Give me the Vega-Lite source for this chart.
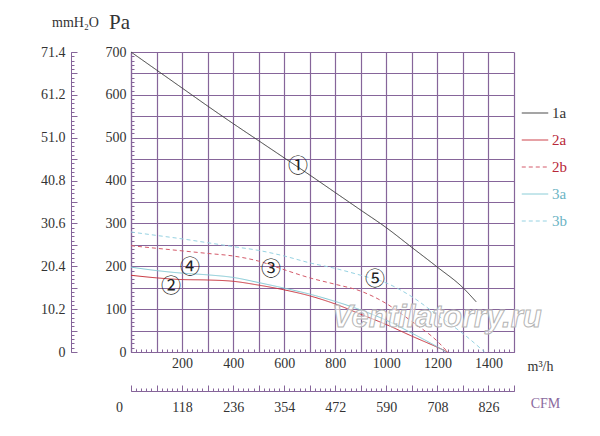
{
  "$schema": "https://vega.github.io/schema/vega-lite/v6.json",
  "width": 383,
  "height": 300,
  "autosize": "none",
  "padding": {"left": 131, "top": 52, "right": 86, "bottom": 84},
  "background": "white",
  "config": {
    "view": {"stroke": null},
    "axis": {
      "labelFont": "Liberation Serif",
      "labelFontSize": 14,
      "labelColor": "#333333",
      "titleFont": "Liberation Serif",
      "titleFontWeight": "normal",
      "titleColor": "#333333",
      "domainColor": "#86659a",
      "tickColor": "#86659a",
      "gridColor": "#86659a",
      "gridOpacity": 1,
      "labelOverlap": false,
      "labelFlush": false,
      "labelBound": false
    }
  },
  "datasets": {
    "curves": [
      {"q": 0, "p": 700, "s": "1a"}, {"q": 100, "p": 658, "s": "1a"}, {"q": 200, "p": 616, "s": "1a"},
      {"q": 300, "p": 574, "s": "1a"}, {"q": 400, "p": 533, "s": "1a"}, {"q": 500, "p": 493, "s": "1a"},
      {"q": 600, "p": 453, "s": "1a"}, {"q": 700, "p": 413, "s": "1a"}, {"q": 800, "p": 372, "s": "1a"},
      {"q": 900, "p": 331, "s": "1a"}, {"q": 1000, "p": 290, "s": "1a"}, {"q": 1100, "p": 244, "s": "1a"},
      {"q": 1200, "p": 198, "s": "1a"}, {"q": 1300, "p": 150, "s": "1a"}, {"q": 1352, "p": 117, "s": "1a"},
      {"q": 0, "p": 179, "s": "2a"}, {"q": 100, "p": 173, "s": "2a"}, {"q": 200, "p": 169, "s": "2a"},
      {"q": 300, "p": 168, "s": "2a"}, {"q": 400, "p": 165, "s": "2a"}, {"q": 500, "p": 156, "s": "2a"},
      {"q": 600, "p": 145, "s": "2a"}, {"q": 700, "p": 131, "s": "2a"}, {"q": 800, "p": 112, "s": "2a"},
      {"q": 900, "p": 88, "s": "2a"}, {"q": 1000, "p": 64, "s": "2a"}, {"q": 1100, "p": 37, "s": "2a"},
      {"q": 1200, "p": 11, "s": "2a"}, {"q": 1240, "p": 0, "s": "2a"},
      {"q": 0, "p": 248, "s": "2b"}, {"q": 100, "p": 242, "s": "2b"}, {"q": 200, "p": 236, "s": "2b"},
      {"q": 300, "p": 230, "s": "2b"}, {"q": 400, "p": 224, "s": "2b"}, {"q": 500, "p": 212, "s": "2b"},
      {"q": 600, "p": 192, "s": "2b"}, {"q": 700, "p": 173, "s": "2b"}, {"q": 800, "p": 158, "s": "2b"},
      {"q": 900, "p": 142, "s": "2b"}, {"q": 1000, "p": 113, "s": "2b"}, {"q": 1100, "p": 71, "s": "2b"},
      {"q": 1200, "p": 25, "s": "2b"}, {"q": 1240, "p": 0, "s": "2b"},
      {"q": 0, "p": 198, "s": "3a"}, {"q": 100, "p": 190, "s": "3a"}, {"q": 200, "p": 184, "s": "3a"},
      {"q": 300, "p": 180, "s": "3a"}, {"q": 400, "p": 174, "s": "3a"}, {"q": 500, "p": 162, "s": "3a"},
      {"q": 600, "p": 149, "s": "3a"}, {"q": 700, "p": 135, "s": "3a"}, {"q": 800, "p": 118, "s": "3a"},
      {"q": 900, "p": 98, "s": "3a"}, {"q": 1000, "p": 74, "s": "3a"}, {"q": 1100, "p": 44, "s": "3a"},
      {"q": 1200, "p": 12, "s": "3a"}, {"q": 1235, "p": 0, "s": "3a"},
      {"q": 0, "p": 280, "s": "3b"}, {"q": 100, "p": 272, "s": "3b"}, {"q": 200, "p": 264, "s": "3b"},
      {"q": 300, "p": 255, "s": "3b"}, {"q": 400, "p": 246, "s": "3b"}, {"q": 500, "p": 237, "s": "3b"},
      {"q": 600, "p": 224, "s": "3b"}, {"q": 700, "p": 208, "s": "3b"}, {"q": 800, "p": 195, "s": "3b"},
      {"q": 900, "p": 179, "s": "3b"}, {"q": 1000, "p": 161, "s": "3b"}, {"q": 1100, "p": 129, "s": "3b"},
      {"q": 1200, "p": 86, "s": "3b"}, {"q": 1300, "p": 43, "s": "3b"}, {"q": 1385, "p": 0, "s": "3b"}
    ],
    "numbers": [
      {"q": 654, "p": 432, "t": "①"},
      {"q": 157, "p": 152, "t": "②"},
      {"q": 548, "p": 191, "t": "③"},
      {"q": 231, "p": 196, "t": "④"},
      {"q": 956, "p": 168, "t": "⑤"}
    ],
    "stamp": [
      {"q": 1198, "p": 79, "t": "Ventilatorry.ru"}
    ]
  },
  "resolve": {
    "scale": {"x": "shared", "y": "shared"},
    "axis": {"x": "independent", "y": "independent"}
  },
  "layer": [
    {
      "data": {"name": "curves"},
      "mark": {"type": "line", "strokeWidth": 1, "interpolate": "monotone"},
      "encoding": {
        "x": {
          "field": "q", "type": "quantitative",
          "scale": {"domain": [0, 1500], "nice": false, "zero": false},
          "axis": {
            "orient": "bottom", "format": "d",
            "values": [0, 100, 200, 300, 400, 500, 600, 700, 800, 900, 1000, 1100, 1200, 1300, 1400, 1500],
            "grid": true, "gridWidth": 1.2, "ticks": false, "domain": true, "domainWidth": 1.2,
            "labelExpr": "datum.value >= 200 && datum.value <= 1400 && datum.value % 200 == 0 ? datum.label : ''",
            "labelPadding": 4,
            "title": "m³/h", "titleAngle": 0, "titleFontSize": 14,
            "titleX": 409, "titleY": 14, "titleAlign": "center", "titleBaseline": "middle"
          }
        },
        "y": {
          "field": "p", "type": "quantitative",
          "scale": {"domain": [0, 700], "nice": false, "zero": false},
          "axis": {
            "orient": "left",
            "values": [0, 50, 100, 150, 200, 250, 300, 350, 400, 450, 500, 550, 600, 650, 700],
            "grid": true, "gridWidth": 1, "ticks": false, "domain": true, "domainWidth": 1.2,
            "labelExpr": "datum.value % 100 == 0 ? datum.label : ''",
            "labelPadding": 5,
            "title": "Pa", "titleAngle": 0, "titleFontSize": 21,
            "titleX": -12, "titleY": -30, "titleAlign": "center", "titleBaseline": "middle"
          }
        },
        "color": {
          "field": "s", "type": "nominal",
          "scale": {"domain": ["1a", "2a", "2b", "3a", "3b"], "range": ["#3a3a3a", "#c8323c", "#d45a6a", "#80c8d4", "#96d2e2"]},
          "legend": {
            "orient": "none", "legendX": 390, "legendY": 47, "title": null,
            "padding": 0, "symbolType": "stroke", "symbolSize": 700, "symbolStrokeWidth": 1,
            "rowPadding": 5, "labelOffset": 3,
            "labelFont": "Liberation Serif", "labelFontSize": 15,
            "labelColor": {"expr": "datum.value == '2a' || datum.value == '2b' ? '#b82838' : datum.value == '3a' || datum.value == '3b' ? '#6cb4c4' : '#333333'"}
          }
        },
        "strokeDash": {
          "field": "s", "type": "nominal",
          "scale": {"domain": ["1a", "2a", "2b", "3a", "3b"], "range": [[1, 0], [1, 0], [4, 3], [1, 0], [4, 3]]},
          "legend": null
        }
      }
    },
    {
      "data": {"name": "curves"},
      "mark": {"type": "point", "opacity": 0},
      "encoding": {
        "x": {
          "field": "q", "type": "quantitative",
          "axis": {
            "orient": "bottom",
            "values": [0,20,40,60,80,100,120,140,160,180,200,220,240,260,280,300,320,340,360,380,400,420,440,460,480,500,520,540,560,580,600,620,640,660,680,700,720,740,760,780,800,820,840,860,880,900,920,940,960,980,1000,1020,1040,1060,1080,1100,1120,1140,1160,1180,1200,1220,1240,1260,1280,1300,1320,1340,1360,1380,1400,1420,1440,1460,1480,1500],
            "grid": false, "domain": false, "labels": false, "ticks": true, "tickSize": -3, "title": null
          }
        },
        "y": {
          "field": "p", "type": "quantitative",
          "axis": {
            "orient": "left",
            "values": [0,10,20,30,40,50,60,70,80,90,100,110,120,130,140,150,160,170,180,190,200,210,220,230,240,250,260,270,280,290,300,310,320,330,340,350,360,370,380,390,400,410,420,430,440,450,460,470,480,490,500,510,520,530,540,550,560,570,580,590,600,610,620,630,640,650,660,670,680,690,700],
            "grid": false, "domain": false, "labels": false, "ticks": true, "tickSize": -3, "title": null
          }
        }
      }
    },
    {
      "data": {"name": "curves"},
      "mark": {"type": "point", "opacity": 0},
      "encoding": {
        "x": {
          "field": "q", "type": "quantitative",
          "axis": {
            "orient": "bottom", "offset": 39,
            "values": [0, 200, 400, 600, 800, 1000, 1200, 1400],
            "grid": false, "domain": true, "ticks": false,
            "labelExpr": "format(datum.value / 200 * 118, 'd')",
            "labelPadding": 9,
            "labelOffset": {"condition": {"test": "datum.value == 0", "value": -12}, "value": 0},
            "title": "CFM", "titleAngle": 0, "titleFontSize": 14, "titleColor": "#8a6a9e",
            "titleX": 414, "titleY": 12, "titleAlign": "center", "titleBaseline": "middle"
          }
        },
        "y": {
          "field": "p", "type": "quantitative",
          "axis": {
            "orient": "left", "offset": 60,
            "values": [0, 100, 200, 300, 400, 500, 600, 700],
            "grid": false, "domain": true, "ticks": false,
            "labelExpr": "datum.value == 0 ? '0' : format(datum.value * 0.102, '.1f')",
            "labelPadding": 6,
            "title": "mmH₂O", "titleAngle": 0, "titleFontSize": 14,
            "titleX": 4, "titleY": -30, "titleAlign": "center", "titleBaseline": "middle"
          }
        }
      }
    },
    {
      "data": {"name": "curves"},
      "mark": {"type": "point", "opacity": 0},
      "encoding": {
        "x": {
          "field": "q", "type": "quantitative",
          "axis": {
            "orient": "bottom", "offset": 39,
            "values": [0,20,40,60,80,100,120,140,160,180,200,220,240,260,280,300,320,340,360,380,400,420,440,460,480,500,520,540,560,580,600,620,640,660,680,700,720,740,760,780,800,820,840,860,880,900,920,940,960,980,1000,1020,1040,1060,1080,1100,1120,1140,1160,1180,1200,1220,1240,1260,1280,1300,1320,1340,1360,1380,1400,1420,1440,1460,1480,1500],
            "grid": false, "domain": false, "labels": false, "ticks": true, "tickSize": -3, "title": null
          }
        },
        "y": {
          "field": "p", "type": "quantitative",
          "axis": {
            "orient": "left", "offset": 60,
            "values": [0,10,20,30,40,50,60,70,80,90,100,110,120,130,140,150,160,170,180,190,200,210,220,230,240,250,260,270,280,290,300,310,320,330,340,350,360,370,380,390,400,410,420,430,440,450,460,470,480,490,500,510,520,530,540,550,560,570,580,590,600,610,620,630,640,650,660,670,680,690,700],
            "grid": false, "domain": false, "labels": false, "ticks": true, "tickSize": -3, "title": null
          }
        }
      }
    },
    {
      "data": {"name": "curves"},
      "mark": {"type": "point", "opacity": 0},
      "encoding": {
        "x": {
          "field": "q", "type": "quantitative",
          "axis": {
            "orient": "bottom", "offset": 39,
            "values": [0, 100, 200, 300, 400, 500, 600, 700, 800, 900, 1000, 1100, 1200, 1300, 1400, 1500],
            "grid": false, "domain": false, "labels": false, "ticks": true, "tickSize": -6, "title": null
          }
        },
        "y": {
          "field": "p", "type": "quantitative",
          "axis": {
            "orient": "left", "offset": 60,
            "values": [0, 50, 100, 150, 200, 250, 300, 350, 400, 450, 500, 550, 600, 650, 700],
            "grid": false, "domain": false, "labels": false, "ticks": true, "tickSize": -6, "title": null
          }
        }
      }
    },
    {
      "data": {"name": "stamp"},
      "mark": {"type": "text", "font": "Liberation Sans", "fontSize": 31, "fontStyle": "italic", "fontWeight": "bold",
               "fill": "#ffffff", "fillOpacity": 0.6, "stroke": "#b5b5b5", "strokeWidth": 1},
      "encoding": {
        "x": {"field": "q", "type": "quantitative", "axis": null},
        "y": {"field": "p", "type": "quantitative", "axis": null},
        "text": {"field": "t"}
      }
    },
    {
      "data": {"name": "numbers"},
      "mark": {"type": "text", "font": "Noto Sans CJK SC", "fontSize": 20, "color": "#222222"},
      "encoding": {
        "x": {"field": "q", "type": "quantitative", "axis": null},
        "y": {"field": "p", "type": "quantitative", "axis": null},
        "text": {"field": "t"}
      }
    }
  ]
}
